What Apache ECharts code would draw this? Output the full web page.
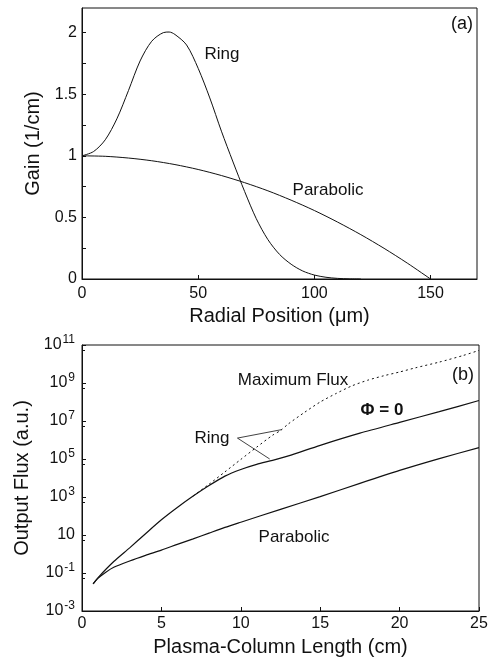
<!DOCTYPE html>
<html>
<head>
<meta charset="utf-8">
<script src="https://cdn.jsdelivr.net/npm/echarts@6/dist/echarts.min.js"></script>
<style>
  html, body { margin: 0; padding: 0; background: #fff; }
  #chart { width: 492px; height: 662px; }
</style>
</head>
<body>
<div id="chart"></div>
<script>
// (a) gain profiles vs radial position (um)
const ringR = [0, 5, 10, 15, 20, 25, 30, 35, 37.5, 40, 45, 50, 55, 60, 65, 70, 75, 80, 85, 90, 95, 100, 105, 110, 115, 120];
const ringGain = [1.0, 1.035, 1.13, 1.30, 1.53, 1.77, 1.93, 2.0, 2.005, 1.985, 1.9, 1.71, 1.47, 1.2, 0.95, 0.71, 0.49, 0.32, 0.2, 0.12, 0.065, 0.032, 0.014, 0.005, 0.001, 0];
const paraR = [0, 10, 20, 30, 40, 50, 60, 70, 80, 90, 100, 110, 120, 130, 140, 150];
const paraGain = [1.0, 0.996, 0.982, 0.96, 0.929, 0.889, 0.84, 0.782, 0.716, 0.64, 0.556, 0.462, 0.36, 0.249, 0.129, 0];

// (b) output flux vs plasma-column length (cm)
const ringL = [0.7, 1, 2, 3, 4, 5, 6, 7, 8, 9, 10, 11, 12, 13, 15, 17.5, 20, 22.5, 25];
const ringFlux = [0.027, 0.056, 0.4, 2.1, 11.7, 63, 280, 1120, 4000, 12600, 28200, 52500, 85000, 145000, 525000, 2.29e6, 8.5e6, 3.1e7, 1.2e8];
const paraL = [0.7, 1, 1.5, 2, 3, 4, 5, 6, 7, 8, 9, 10, 12.5, 15, 17.5, 20, 22.5, 25];
const paraFlux = [0.027, 0.052, 0.11, 0.2, 0.43, 0.85, 1.6, 3.2, 6.3, 12.6, 25, 47, 224, 1050, 5250, 25100, 1.05e5, 4e5];
const maxL = [7, 8, 9, 10, 11, 12, 12.5, 13, 14, 15, 16, 17, 18, 19, 20, 21, 22.5, 24, 25];
const maxFlux = [1120, 4700, 21000, 9.5e4, 4.2e5, 1.78e6, 3.16e6, 7.1e6, 2.8e7, 1e8, 2.8e8, 7.1e8, 1.41e9, 2.4e9, 3.8e9, 6.3e9, 1.26e10, 2.8e10, 5.2e10];
const leaderPts = [[12.56, 3.5e6], [9.79, 1.26e6], [11.82, 1e5]];

const pair = (xs, ys) => xs.map((x, i) => [x, ys[i]]);
const font = "'Liberation Sans', Arial, Helvetica, sans-serif";
const ink = "#111";

const chart = echarts.init(document.getElementById("chart"));

const label = (text, x, y, size, weight) => ({
  type: "text",
  x: x,
  y: y,
  style: {
    text: text,
    fill: ink,
    font: (weight || "normal") + " " + size + "px " + font,
    align: "center",
    verticalAlign: "middle",
  },
});

const option = {
  backgroundColor: "#fff",
  animation: false,
  textStyle: { fontFamily: font, color: ink },
  grid: [
    { left: 82, top: 8, right: 15, height: 271, show: true, borderColor: ink, borderWidth: 1 },
    { left: 82, top: 345, right: 13, height: 266, show: true, borderColor: ink, borderWidth: 1 },
  ],
  xAxis: [
    {
      gridIndex: 0,
      type: "value",
      min: 0,
      max: 170,
      interval: 50,
      name: "Radial Position (\u03bcm)",
      nameLocation: "middle",
      nameGap: 27,
      nameTextStyle: { fontSize: 20, color: ink, fontFamily: font },
      axisLine: { lineStyle: { color: ink } },
      axisTick: { inside: true, length: 4, lineStyle: { color: ink } },
      axisLabel: { fontSize: 16, color: ink, margin: 7, showMaxLabel: false, fontFamily: font },
      splitLine: { show: false },
    },
    {
      gridIndex: 1,
      type: "value",
      min: 0,
      max: 25,
      interval: 5,
      name: "Plasma-Column Length (cm)",
      nameLocation: "middle",
      nameGap: 26,
      nameTextStyle: { fontSize: 20, color: ink, fontFamily: font },
      axisLine: { lineStyle: { color: ink } },
      axisTick: { inside: true, length: 4, lineStyle: { color: ink } },
      axisLabel: { fontSize: 16, color: ink, margin: 5, fontFamily: font },
      splitLine: { show: false },
    },
  ],
  yAxis: [
    {
      gridIndex: 0,
      type: "value",
      min: 0,
      max: 2.2,
      interval: 0.25,
      name: "Gain (1/cm)",
      nameLocation: "middle",
      nameGap: 37,
      nameTextStyle: { fontSize: 20, color: ink, fontFamily: font },
      axisLine: { lineStyle: { color: ink } },
      axisTick: { inside: true, length: 4, lineStyle: { color: ink } },
      axisLabel: {
        fontSize: 16,
        color: ink,
        margin: 5,
        showMaxLabel: false,
        fontFamily: font,
        formatter: (v) => (Math.abs(v * 2 - Math.round(v * 2)) < 1e-6 ? String(v) : ""),
      },
      splitLine: { show: false },
    },
    {
      gridIndex: 1,
      type: "log",
      logBase: 10,
      min: 1e-3,
      max: 1e11,
      interval: 2,
      name: "Output Flux (a.u.)",
      nameLocation: "middle",
      nameGap: 47,
      nameTextStyle: { fontSize: 20, color: ink, fontFamily: font },
      axisLine: { lineStyle: { color: ink } },
      axisTick: { inside: true, length: 4, lineStyle: { color: ink } },
      minorTick: { show: true, splitNumber: 2, length: 3, lineStyle: { color: ink } },
      axisLabel: {
        fontSize: 16,
        color: ink,
        margin: 7,
        fontFamily: font,
        formatter: (v) => {
          const e = Math.round(Math.log10(v));
          return e === 1 ? "10" : "10{sup|" + e + "}";
        },
        rich: {
          sup: { fontSize: 12, verticalAlign: "bottom", padding: [0, 0, 10, 1], color: ink, fontFamily: font },
        },
      },
      splitLine: { show: false },
    },
  ],
  series: [
    {
      name: "Ring",
      type: "line",
      xAxisIndex: 0,
      yAxisIndex: 0,
      data: pair(ringR, ringGain),
      smooth: 0.3,
      showSymbol: false,
      lineStyle: { color: ink, width: 1 },
    },
    {
      name: "Parabolic",
      type: "line",
      xAxisIndex: 0,
      yAxisIndex: 0,
      data: pair(paraR, paraGain),
      smooth: 0.3,
      showSymbol: false,
      lineStyle: { color: ink, width: 1 },
    },
    {
      name: "Ring (Phi = 0)",
      type: "line",
      xAxisIndex: 1,
      yAxisIndex: 1,
      data: pair(ringL, ringFlux),
      smooth: 0.25,
      showSymbol: false,
      lineStyle: { color: ink, width: 1.2 },
    },
    {
      name: "Parabolic flux",
      type: "line",
      xAxisIndex: 1,
      yAxisIndex: 1,
      data: pair(paraL, paraFlux),
      smooth: 0.25,
      showSymbol: false,
      lineStyle: { color: ink, width: 1.2 },
    },
    {
      name: "Maximum Flux",
      type: "line",
      xAxisIndex: 1,
      yAxisIndex: 1,
      data: pair(maxL, maxFlux),
      smooth: 0.25,
      showSymbol: false,
      lineStyle: { color: ink, width: 1, type: [2, 3] },
    },
    {
      name: "leader",
      type: "line",
      xAxisIndex: 1,
      yAxisIndex: 1,
      data: leaderPts,
      showSymbol: false,
      lineStyle: { color: ink, width: 0.8 },
    },
  ],
  graphic: [
    label("(a)", 462, 24, 18),
    label("Ring", 222, 54, 17),
    label("Parabolic", 328, 190, 17),
    label("(b)", 463, 375, 18),
    label("Maximum Flux", 293, 380, 17),
    label("\u03a6 = 0", 382, 410, 17, "bold"),
    label("Ring", 212, 438, 17),
    label("Parabolic", 294, 537, 17),
  ],
};

chart.setOption(option);
</script>
</body>
</html>
